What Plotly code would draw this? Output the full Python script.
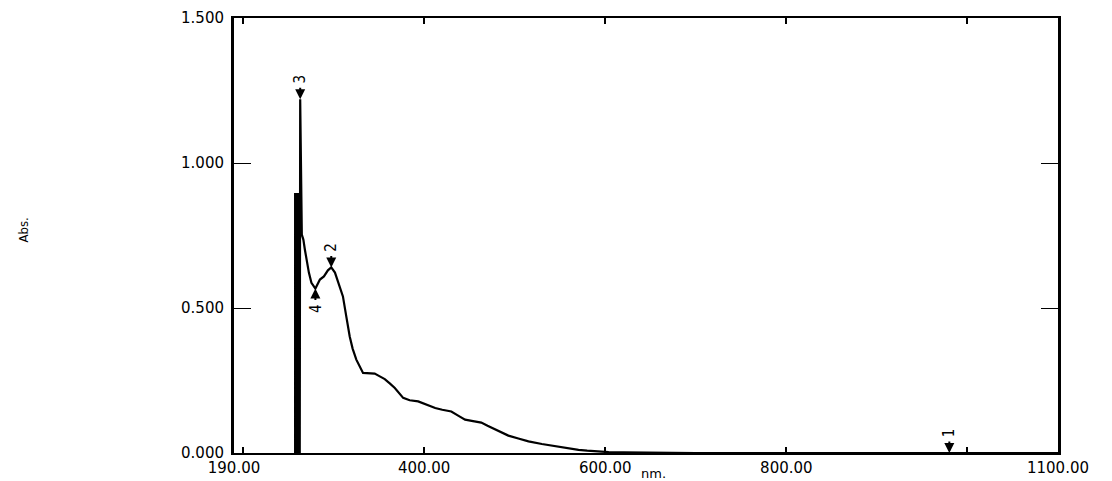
import plotly.graph_objects as go

# Spectrum data (wavelength nm, absorbance)
wavelength = [257.5, 257.5, 258.7, 258.7, 260.0, 260.0, 261.2, 261.2, 262.6,
              263.1, 264.9, 266.6, 268.3, 270.5, 272.7, 275.5, 279.9, 284.9,
              289.3, 293.7, 297.4, 301.5, 304.8, 310.3, 314.0, 317.8, 321.0,
              325.1, 332.5, 338.0, 345.4, 350.0, 356.5, 362.0, 367.6, 376.8,
              384.0, 393.4, 402.0, 412.2, 420.0, 430.0, 438.0, 445.2, 454.0,
              463.1, 470.0, 478.6, 486.0, 493.0, 504.0, 515.2, 530.0, 545.1,
              557.0, 570.5, 580.0, 589.4, 603.8, 620.0, 644.7, 700.0, 800.0,
              900.0, 1000.0, 1100.0]
absorbance = [0.0, 0.893, 0.893, 0.0, 0.0, 0.893, 0.893, 0.0, 0.0,
              1.220, 0.753, 0.736, 0.701, 0.661, 0.622, 0.587, 0.567, 0.598,
              0.609, 0.630, 0.640, 0.622, 0.592, 0.540, 0.471, 0.402, 0.360,
              0.322, 0.276, 0.276, 0.274, 0.266, 0.255, 0.240, 0.224, 0.190,
              0.182, 0.178, 0.168, 0.155, 0.149, 0.143, 0.128, 0.115, 0.110,
              0.105, 0.094, 0.082, 0.071, 0.060, 0.050, 0.040, 0.031, 0.023,
              0.017, 0.011, 0.008, 0.0055, 0.003, 0.002, 0.001, 0.0, 0.0,
              0.0, 0.0, 0.0]

# Peak / valley markers
marker_labels = ["1", "2", "3", "4"]
marker_x = [980.0, 297.4, 263.1, 279.9]
marker_y = [0.0, 0.640, 1.220, 0.567]
marker_dir = ["down", "down", "down", "up"]

# Axis labels
x_label_vals = [190, 400, 600, 800, 1100]
x_label_text = ["190.00", "400.00", "600.00", "800.00", "1100.00"]
x_tick_vals = [200, 400, 600, 800, 1000]
y_tick_vals = [0.0, 0.5, 1.0, 1.5]
y_tick_text = ["0.000", "0.500", "1.000", "1.500"]

fig = go.Figure()
fig.add_trace(go.Scatter(x=wavelength, y=absorbance, mode="lines",
                         line=dict(color="black", width=2.2),
                         hoverinfo="skip", showlegend=False))
fig.add_trace(go.Scatter(x=[190, 1100], y=[0, 0], xaxis="x2", mode="lines",
                         line=dict(width=0), opacity=0, hoverinfo="skip",
                         showlegend=False))

tickfont = dict(family="DejaVu Sans", size=15, color="black")
label_font = dict(family="DejaVu Sans Condensed, DejaVu Sans", size=15,
                  color="black")

annotations = []
for lab, mx, my, d in zip(marker_labels, marker_x, marker_y, marker_dir):
    sign = -1 if d == "down" else 1
    annotations.append(dict(x=mx, y=my, xref="x", yref="y", text="",
                            showarrow=True, arrowhead=2, arrowsize=1.0,
                            arrowwidth=2, arrowcolor="black",
                            ax=0, ay=sign * 13))
    annotations.append(dict(x=mx, y=my, xref="x", yref="y", text=lab,
                            showarrow=False, textangle=-90, font=label_font,
                            yshift=-sign * 20))

annotations.append(dict(x=0.5, y=0, xref="paper", yref="paper", text="nm.",
                        showarrow=False, yanchor="top", yshift=-11, xshift=7,
                        font=dict(family="DejaVu Sans", size=13, color="black")))
annotations.append(dict(x=0, y=0.5, xref="paper", yref="paper", text="Abs.",
                        showarrow=False, textangle=-90, xanchor="center",
                        xshift=-211, yshift=5,
                        font=dict(family="DejaVu Sans Condensed, DejaVu Sans",
                                  size=13, color="black")))

fig.update_layout(
    width=1112, height=481,
    margin=dict(l=226, r=62, t=10, b=36),
    paper_bgcolor="white", plot_bgcolor="white",
    showlegend=False,
    xaxis=dict(range=[190, 1100], tickmode="array", tickvals=x_label_vals,
               ticktext=x_label_text, ticks="", showgrid=False, zeroline=False,
               showline=True, linecolor="black", linewidth=2, mirror=True,
               tickfont=tickfont, automargin=False),
    xaxis2=dict(range=[190, 1100], overlaying="x", anchor="y", side="bottom",
                tickmode="array", tickvals=x_tick_vals, ticks="inside",
                ticklen=6, tickwidth=2, tickcolor="black",
                showticklabels=False, showgrid=False, zeroline=False,
                showline=False, mirror="ticks", automargin=False),
    yaxis=dict(range=[0, 1.5], tickmode="array", tickvals=y_tick_vals,
               ticktext=y_tick_text, ticks="inside", ticklen=17, tickwidth=1,
               tickcolor="black", showgrid=False, zeroline=False,
               showline=True, linecolor="black", linewidth=3, mirror="ticks",
               tickfont=tickfont, ticklabelstandoff=4, automargin=False),
    annotations=annotations,
)

fig.write_html("out.html")
